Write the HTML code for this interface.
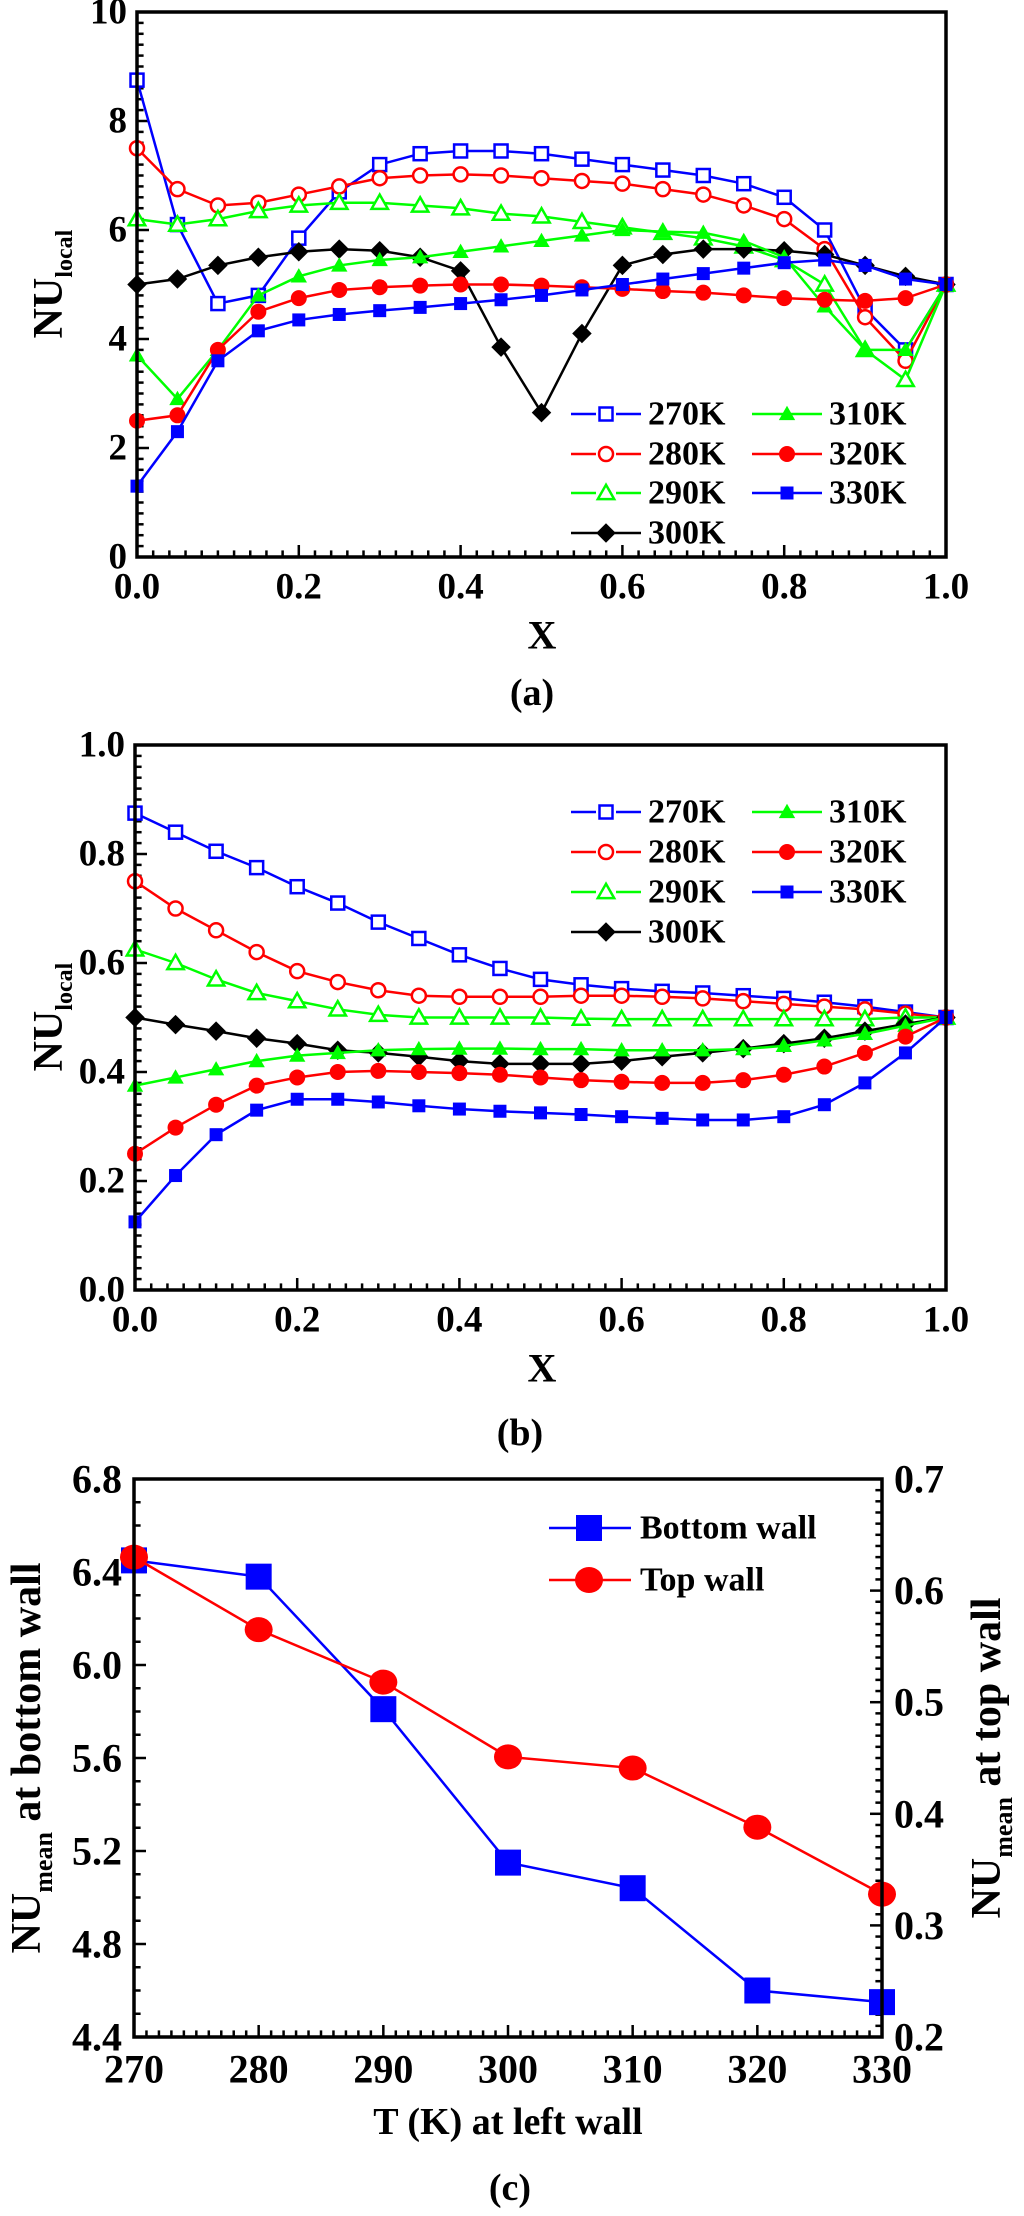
<!DOCTYPE html>
<html><head><meta charset="utf-8"><style>
html,body{margin:0;padding:0;background:#fff;}
svg{display:block;}
svg text{font-family:"Liberation Serif","Times New Roman",serif;font-weight:bold;}
</style></head><body>
<svg id="fig" width="1024" height="2216" viewBox="0 0 1024 2216" xmlns="http://www.w3.org/2000/svg" font-family="Liberation Serif, serif" font-weight="bold"></svg>
<script>
const xsA = [0,0.05,0.1,0.15,0.2,0.25,0.3,0.35,0.4,0.45,0.5,0.55,0.6,0.65,0.7,0.75,0.8,0.85,0.9,0.95,1.0];
const seriesNames = ['270K','280K','290K','300K','310K','320K','330K'];
const a270 = [8.75,6.1,4.65,4.8,5.85,6.7,7.2,7.4,7.45,7.45,7.4,7.3,7.2,7.1,7.0,6.85,6.6,6.0,4.55,3.8,5.0];
const a280 = [7.5,6.75,6.45,6.5,6.65,6.8,6.95,7.0,7.02,7.0,6.95,6.9,6.85,6.75,6.65,6.45,6.2,5.65,4.4,3.6,5.0];
const a290 = [6.2,6.1,6.2,6.35,6.45,6.5,6.5,6.45,6.4,6.3,6.25,6.15,6.05,5.95,5.85,5.7,5.45,5.0,3.8,3.25,5.0];
const a300 = [5.0,5.1,5.35,5.5,5.6,5.65,5.62,5.5,5.25,3.85,2.65,4.1,5.35,5.55,5.65,5.65,5.62,5.55,5.35,5.15,5.0];
const a310 = [3.7,2.9,3.8,4.8,5.15,5.35,5.45,5.5,5.6,5.7,5.8,5.9,6.0,5.97,5.95,5.8,5.5,4.6,3.8,3.8,5.0];
const a320 = [2.5,2.6,3.8,4.5,4.75,4.9,4.95,4.98,5.0,5.0,4.98,4.95,4.92,4.88,4.85,4.8,4.75,4.72,4.7,4.75,5.0];
const a330 = [1.3,2.3,3.6,4.15,4.35,4.45,4.52,4.58,4.65,4.72,4.8,4.9,5.0,5.1,5.2,5.3,5.4,5.45,5.35,5.1,5.0];
const b270 = [.875,.84,.805,.775,.74,.71,.675,.645,.615,.59,.57,.56,.553,.548,.545,.54,.535,.528,.52,.51,.5];
const b280 = [.75,.70,.66,.62,.585,.565,.55,.54,.538,.538,.538,.54,.54,.538,.535,.53,.525,.52,.515,.507,.5];
const b290 = [.625,.6,.57,.545,.53,.515,.505,.5,.5,.5,.5,.498,.497,.497,.497,.497,.497,.497,.497,.5,.5];
const b300 = [.5,.487,.475,.462,.452,.44,.435,.428,.42,.415,.415,.415,.42,.428,.435,.443,.452,.462,.475,.488,.5];
const b310 = [.375,.39,.405,.42,.43,.435,.44,.442,.443,.443,.442,.442,.44,.44,.44,.442,.448,.458,.47,.485,.5];
const b320 = [.25,.298,.34,.375,.39,.4,.402,.4,.398,.395,.39,.385,.382,.38,.38,.385,.395,.41,.435,.465,.5];
const b330 = [.125,.21,.285,.33,.35,.35,.345,.338,.332,.328,.325,.322,.318,.315,.312,.312,.318,.34,.38,.435,.5];
const tempsC = [270,280,290,300,310,320,330];
const bottomWall = [6.45,6.38,5.81,5.15,5.04,4.6,4.55];
const topWall = [0.63,0.565,0.518,0.451,0.441,0.388,0.328];
const xTicksAB = ['0.0','0.2','0.4','0.6','0.8','1.0'];
const yTicksA = ['0','2','4','6','8','10'];
const yTicksB = ['0.0','0.2','0.4','0.6','0.8','1.0'];
const xTicksC = ['270','280','290','300','310','320','330'];
const yTicksCL = ['4.4','4.8','5.2','5.6','6.0','6.4','6.8'];
const yTicksCR = ['0.2','0.3','0.4','0.5','0.6','0.7'];

const NS='http://www.w3.org/2000/svg';
const FONT='"Liberation Serif", serif';
const svg=document.getElementById('fig');
function mk(tag,attrs,parent){const e=document.createElementNS(NS,tag);for(const k in attrs)e.setAttribute(k,attrs[k]);(parent||svg).appendChild(e);return e;}
function txt(s,x,y,size,anchor,parent){const t=mk('text',{x:x,y:y,'font-size':size,'font-family':FONT,'font-weight':'bold','text-anchor':anchor||'middle','dominant-baseline':'central',fill:'#000'},parent);t.textContent=s;return t;}
const BLUE='#0000ff',RED='#ff0000',GREEN='#00ff00',BLACK='#000';
const styles=[{c:BLUE,m:'square',f:false},{c:RED,m:'circle',f:false},{c:GREEN,m:'triangle',f:false},{c:BLACK,m:'diamond',f:true},{c:GREEN,m:'triangle',f:true},{c:RED,m:'circle',f:true},{c:BLUE,m:'square',f:true}];
function marker(g,type,x,y,s,color,filled){
  const fill=filled?color:'#fff';const sw=filled?0:2.5;
  let e;
  if(type==='square'){e=mk('rect',{x:x-s/2,y:y-s/2,width:s,height:s,fill:fill,stroke:color,'stroke-width':sw},g);}
  else if(type==='circle'){e=mk('circle',{cx:x,cy:y,r:s/2+(filled?1:0),fill:fill,stroke:color,'stroke-width':sw},g);}
  else if(type==='triangle'){const h=s*1.05;e=mk('polygon',{points:(x)+','+(y-h*0.6)+' '+(x-h*0.6)+','+(y+h*0.45)+' '+(x+h*0.6)+','+(y+h*0.45),fill:fill,stroke:color,'stroke-width':sw},g);}
  else {const r=s*0.75;e=mk('polygon',{points:x+','+(y-r)+' '+(x+r)+','+y+' '+x+','+(y+r)+' '+(x-r)+','+y,fill:fill},g);}
  return e;
}
function frame(g,L,T,R,B){mk('rect',{x:L,y:T,width:R-L,height:B-T,fill:'none',stroke:'#000','stroke-width':3.5},g);}
function ticksX(g,L,R,B,n,minorPer,len){const step=(R-L)/n;for(let i=0;i<=n*minorPer;i++){const x=L+i*step/minorPer;const major=i%minorPer===0;mk('line',{x1:x,y1:B,x2:x,y2:B-(major?len:len*0.55),stroke:'#000','stroke-width':2.5},g);}}
function ticksY(g,X,T,B,n,minorPer,len,dir){const step=(B-T)/n;for(let i=0;i<=n*minorPer;i++){const y=B-i*step/minorPer;const major=i%minorPer===0;mk('line',{x1:X,y1:y,x2:X+dir*(major?len:len*0.55),y2:y,stroke:'#000','stroke-width':2.5},g);}}

function lineChart(name,L,T,R,B,ymax,datasets,yTicks,legendRows,yLabelY){
  const g=mk('g',{});  
  const xs=v=>L+v*(R-L); const ys=v=>B-v/ymax*(B-T);
  ticksX(g,L,R,B,5,10,12); ticksY(g,L,T,B,5,10,12,1);
  datasets.forEach((d,k)=>{
    const st=styles[k];
    const sg=mk('g',{},g);  
    const pts=d.map((v,i)=>xs(xsA[i])+','+ys(v)).join(' ');
    const pl=mk('polyline',{points:pts,fill:'none',stroke:st.c,'stroke-width':2.5},sg);
    
    d.forEach((v,i)=>{const m=marker(sg,st.m,xs(xsA[i]),ys(v),st.m==='circle'?14:13,st.c,st.f);
      
      });
  });
  frame(g,L,T,R,B);
  xTicksAB.forEach((t,i)=>{const lb=txt(t,L+i*(R-L)/5,B+30,37,'middle',g);
    });
  yTicks.forEach((t,i)=>{const lb=txt(t,L-10,B-i*(B-T)/5,37,'end',g);
    });
  const xl=txt('X',542,B+78,40,'middle',g); 
  const yl=mk('text',{x:0,y:0,'font-size':42,'font-family':FONT,'font-weight':'bold','text-anchor':'middle',transform:'translate(62 '+yLabelY+') rotate(-90)'},g);
  
  yl.innerHTML='NU<tspan font-size="24" dy="10">local</tspan>';
  const cols=[[571,606,648],[752,787,829]];
  const order=[[0,0],[0,1],[0,2],[0,3],[1,0],[1,1],[1,2]];
  seriesNames.forEach((n,k)=>{const [c,r]=order[k];const y=legendRows[r];const st=styles[k];
    const lg=mk('g',{},g);  
    mk('line',{x1:cols[c][0],y1:y,x2:cols[c][0]+70,y2:y,stroke:st.c,'stroke-width':2.5},lg);
    if(!st.f)mk('rect',{x:cols[c][1]-10,y:y-10,width:20,height:20,fill:'#fff'},lg);
    marker(lg,st.m,cols[c][1],y,st.m==='circle'?14:13,st.c,st.f);
    txt(n,cols[c][2],y,34,'start',lg);
  });
}
lineChart('chart-a-local-nu-bottom',137,12,946,557,10,[a270,a280,a290,a300,a310,a320,a330],yTicksA,[414,454,493,533],284);
const la=txt('(a)',532,693,38,'middle'); 
lineChart('chart-b-local-nu-top',135,745,946,1290,1.0,[b270,b280,b290,b300,b310,b320,b330],yTicksB,[812,852,892,932],1017);
const lb=txt('(b)',520,1433,38,'middle'); 

(function(){
  const L=134,T=1479,R=882,B=2037;
  const g=mk('g',{});  
  const xs=v=>L+(v-270)/60*(R-L); const yl=v=>B-(v-4.4)/2.4*(B-T); const yr=v=>B-(v-0.2)/0.5*(B-T);
  ticksX(g,L,R,B,6,10,12); ticksY(g,L,T,B,6,4,12,1); ticksY(g,R,T,B,5,10,12,-1);
  const bg=mk('g',{},g);  
  mk('polyline',{points:bottomWall.map((v,i)=>xs(tempsC[i])+','+yl(v)).join(' '),fill:'none',stroke:BLUE,'stroke-width':2.5},bg);
  const tg=mk('g',{},g);  
  mk('polyline',{points:topWall.map((v,i)=>xs(tempsC[i])+','+yr(v)).join(' '),fill:'none',stroke:RED,'stroke-width':2.5},tg);
  bottomWall.forEach((v,i)=>{const m=mk('rect',{x:xs(tempsC[i])-13,y:yl(v)-13,width:26,height:26,fill:BLUE},bg);
    });
  topWall.forEach((v,i)=>{const m=mk('ellipse',{cx:xs(tempsC[i]),cy:yr(v),rx:14,ry:12.5,fill:RED},tg);
    });
  frame(g,L,T,R,B);
  xTicksC.forEach((t,i)=>{const e=txt(t,L+i*(R-L)/6,B+32,40,'middle',g); });
  yTicksCL.forEach((t,i)=>{const e=txt(t,L-12,B-i*(B-T)/6,40,'end',g); });
  yTicksCR.forEach((t,i)=>{const e=txt(t,R+12,B-i*(B-T)/5,40,'start',g); });
  const xt=txt('T (K) at left wall',508,2122,38,'middle',g); 
  const ylt=mk('text',{'font-size':42,'font-family':FONT,'font-weight':'bold','text-anchor':'middle',transform:'translate(40 1758) rotate(-90)'},g);
  
  ylt.innerHTML='NU<tspan font-size="26" dy="12">mean</tspan><tspan dy="-12"> at bottom wall</tspan>';
  const yrt=mk('text',{'font-size':42,'font-family':FONT,'font-weight':'bold','text-anchor':'middle',transform:'translate(1000 1758) rotate(-90)'},g);
  
  yrt.innerHTML='NU<tspan font-size="26" dy="12">mean</tspan><tspan dy="-12"> at top wall</tspan>';
  const l1=mk('g',{},g);  
  mk('line',{x1:549,y1:1528,x2:631,y2:1528,stroke:BLUE,'stroke-width':2.5},l1);
  mk('rect',{x:576,y:1515,width:26,height:26,fill:BLUE},l1);
  txt('Bottom wall',640,1528,34,'start',l1);
  const l2=mk('g',{},g);  
  mk('line',{x1:549,y1:1580,x2:631,y2:1580,stroke:RED,'stroke-width':2.5},l2);
  mk('ellipse',{cx:589,cy:1580,rx:14,ry:13,fill:RED},l2);
  txt('Top wall',640,1580,34,'start',l2);
})();
const lc=txt('(c)',510,2188,38,'middle'); 
</script>
</body></html>
